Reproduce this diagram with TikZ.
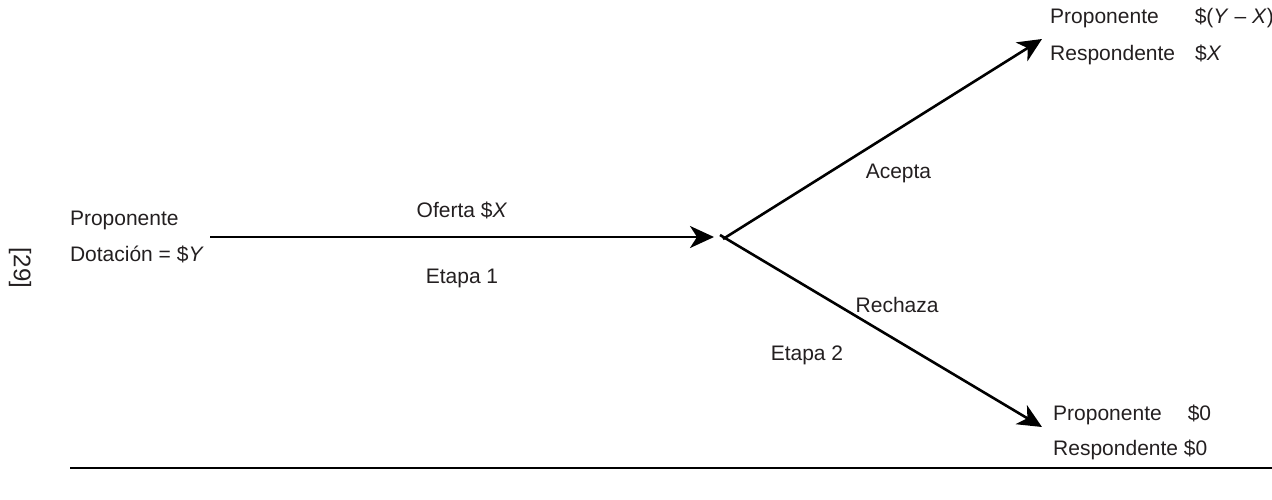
\documentclass[tikz,border=0pt]{standalone}
\usepackage{fontspec}
\setmainfont{Liberation Sans}
\usetikzlibrary{arrows.meta,positioning}
\definecolor{texto}{HTML}{231F20}

\begin{document}
\begin{tikzpicture}[x=1pt,y=-1pt,
    font=\fontsize{21}{25}\selectfont,
    every node/.style={text=texto},
    flecha/.style={line width=2.6pt,-{Stealth[length=24pt,width=22pt,inset=7pt]}},
    etiqueta/.style={inner sep=0pt}]
    \useasboundingbox (0,0) rectangle (1272,499);
    % Jugador inicial
    \node[etiqueta,align=left,anchor=east] (prop) at (204,237)
        {Proponente\\[11pt]Dotaci\'on = \$\textit{Y}};
    % Nodo de decision del respondente
    \coordinate (dec) at (723,237);
    % Resultados
    \node[etiqueta,anchor=west] (acep1) at (1050,18) {Proponente\hspace{36pt}\$(\textit{Y} -- \textit{X})};
    \node[etiqueta,anchor=west] (acep2) at (1050,55) {Respondente\hspace{20pt}\$\textit{X}};
    \node[etiqueta,anchor=west] (rech1) at (1053,415) {Proponente\hspace{26pt}\$0};
    \node[etiqueta,anchor=west] (rech2) at (1053,450) {Respondente \$0};
    \coordinate (finA) at (1042,39);
    \coordinate (finR) at (1042,427);
    % Etapa 1
    \draw[flecha] (prop.east) ++(6,0) coordinate (ini) -- ([xshift=-9pt]dec)
        node[etiqueta,pos=0.5,above=17pt] (oferta) {Oferta \$\textit{X}}
        node[etiqueta,pos=0.5,below=31pt] (etapa1) {Etapa 1};
    % Etapa 2
    \draw[flecha] ([yshift=-2pt]dec) -- (finA)
        node[etiqueta,pos=0.55,below=34pt] (acepta) {Acepta};
    \draw[flecha] ([xshift=-3pt,yshift=2pt]dec) -- (finR)
        node[etiqueta,pos=0.55,above=27pt] (rechaza) {Rechaza}
        node[etiqueta,pos=0.27,below=58pt] (etapa2) {Etapa 2};
    % Pie de pagina
    \draw[line width=1.8pt] (70,468) -- (1272,468);
    \node[etiqueta,rotate=-90,font=\fontsize{24}{28}\selectfont] (pag) at (20,268) {[29]};
\end{tikzpicture}
\end{document}
